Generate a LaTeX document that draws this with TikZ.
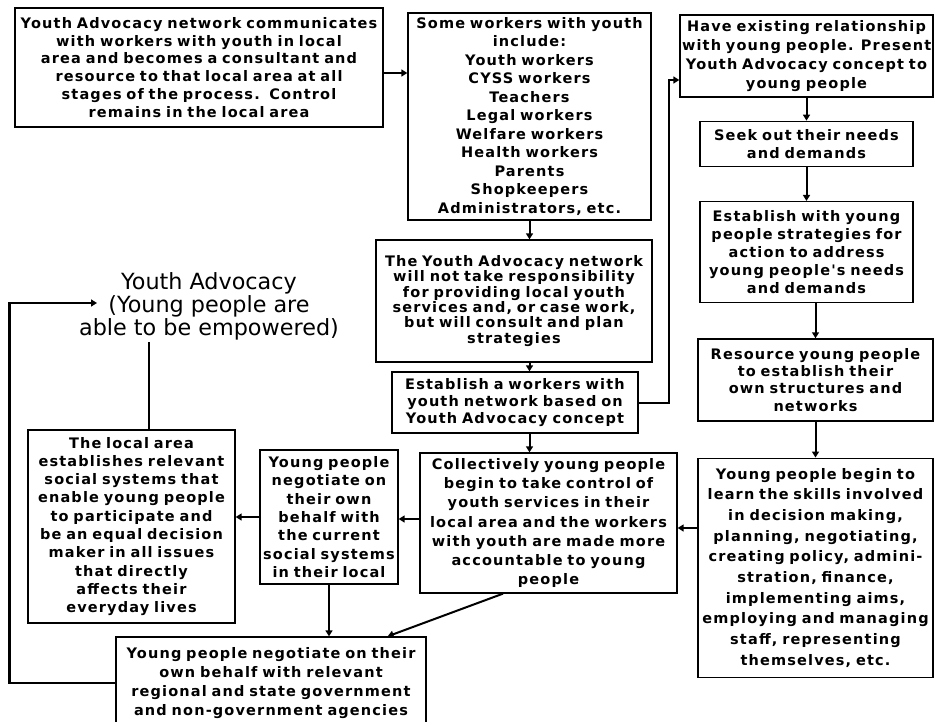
\documentclass[tikz,border=0pt]{standalone}
\usepackage{fontspec}
\usepackage{tikz}
\usetikzlibrary{arrows.meta,positioning,calc}
\newfontfamily\boxfont[LetterSpace=8]{DejaVu Sans}
\newfontfamily\titlefont{DejaVu Sans}
\newcommand{\yaf}[1]{\boxfont\bfseries\fontsize{14.5}{#1}\selectfont}

\begin{document}
\begin{tikzpicture}[
    x=1pt, y=-1pt,
    box/.style={draw, line width=1.3pt, inner sep=2pt, align=center, font=\yaf{18.3}},
    arr/.style={-{Triangle[length=6pt,width=7pt]}, line width=2pt}
]
\useasboundingbox (0,0) rectangle (935,722);

\node[box, text width=364pt, minimum height=119pt, font=\yaf{17.9}] (comm) at (199,67.5) {Youth Advocacy network communicates\\with workers with youth in local\\area and becomes a consultant and\\resource to that local area at all\\stages of the process.\ \ Control\\remains in the local area};
\node[box, text width=239pt, minimum height=207pt, font=\yaf{18.5}] (some) at (529.5,116.5) {Some workers with youth\\include:\\Youth workers\\CYSS workers\\Teachers\\Legal workers\\Welfare workers\\Health workers\\Parents\\Shopkeepers\\Administrators, etc.};
\node[box, text width=272pt, minimum height=122pt, font=\yaf{15.3}] (notake) at (514,301) {The Youth Advocacy network\\will not take responsibility\\for providing local youth\\services and, or case work,\\but will consult and plan\\strategies};
\node[box, text width=242pt, minimum height=61pt, font=\yaf{16.7}] (network) at (515,402.5) {Establish a workers with\\youth network based on\\Youth Advocacy concept};
\node[box, text width=253pt, minimum height=140pt, font=\yaf{19.2}] (collect) at (548.5,523) {Collectively young people\\begin to take control of\\youth services in their\\local area and the workers\\with youth are made more\\accountable to young\\people};
\node[box, text width=134pt, minimum height=134pt] (negloc) at (329,517) {Young people\\negotiate on\\their own\\behalf with\\the current\\social systems\\in their local};
\node[box, text width=203pt, minimum height=193pt] (local) at (131.5,526.5) {The local area\\establishes relevant\\social systems that\\enable young people\\to participate and\\be an equal decision\\maker in all issues\\that directly\\affects their\\everyday lives};
\node[box, text width=306pt, minimum height=92pt, font=\yaf{18.9}] (negreg) at (271,683) {Young people negotiate on their\\own behalf with relevant\\regional and state government\\and non-government agencies};

% right column
\node[box, text width=249pt, minimum height=82pt, font=\yaf{18.9}] (exist) at (806.5,56) {Have existing relationship\\with young people. Present\\Youth Advocacy concept to\\young people};
\node[box, text width=209pt, minimum height=45pt, below=23pt of exist] (needs) {Seek out their needs\\and demands};
\node[box, text width=209pt, minimum height=101pt, font=\yaf{17.9}, below=34pt of needs] (strat) {Establish with young\\people strategies for\\action to address\\young people's needs\\and demands};
\node[box, text width=231pt, minimum height=82pt, font=\yaf{17.2}, below=35pt of strat, xshift=9pt] (resrc) {Resource young people\\to establish their\\own structures and\\networks};
\node[box, text width=231pt, minimum height=219pt, font=\yaf{20.7}, below=36pt of resrc] (skills) {Young people begin to\\learn the skills involved\\in decision making,\\planning, negotiating,\\creating policy, admini-\\stration, finance,\\implementing aims,\\employing and managing\\staff, representing\\themselves, etc.};

\node[font=\titlefont\fontsize{22.3}{23}\selectfont, align=center, inner sep=0pt] (title) at (209,306) {Youth Advocacy\\(Young people are\\able to be empowered)};
\coordinate (tlink) at (149,342);
\coordinate (loopend) at (97,303);

\draw[arr] ([yshift=-5.5pt]comm.east) -- ([yshift=-5.5pt]comm.east -| some.west);
\draw[arr] (some.south) -- (some.south |- notake.north);
\draw[arr] (some.south |- notake.south) -- (some.south |- network.north);
\draw[arr] (some.south |- network.south) -- (some.south |- collect.north);
\draw[arr] (network.east) -- ++(30,0) |- ([yshift=-24pt]exist.west);
\draw[arr] (needs.north |- exist.south) -- (needs.north);
\draw[arr] (needs) -- (strat);
\draw[arr] (resrc.north |- strat.south) -- (resrc.north);
\draw[arr] (resrc.south) -- (skills.north);
\draw[arr] ([yshift=-5pt]collect.east -| skills.west) -- ([yshift=-5pt]collect.east);
\draw[arr] ([yshift=4pt]collect.west) -- ([yshift=4pt]collect.west -| negloc.east);
\draw[arr] (negloc.west) -- (negloc.west -| local.east);
\draw[arr] (negloc.south) -- (negloc.south |- negreg.north);
\draw[arr] ([xshift=-45.5pt]collect.south) -- ([xshift=-39pt]negreg.north east);
\draw[arr, line width=2.5pt] (negreg.west) -- ++(-106,0) |- (loopend);
\draw[line width=2pt] (tlink) -- (tlink |- local.north);
\end{tikzpicture}
\end{document}
